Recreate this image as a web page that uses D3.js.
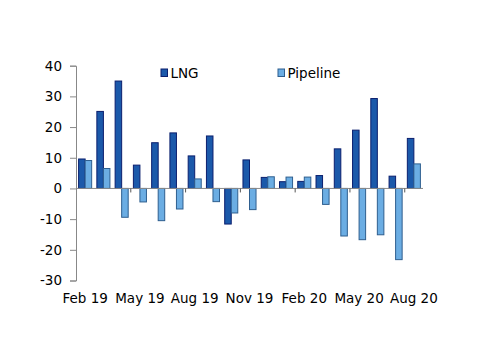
<!DOCTYPE html>
<html><head><meta charset="utf-8">
<script src="https://cdnjs.cloudflare.com/ajax/libs/d3/7.8.5/d3.min.js"></script>
<style>body{margin:0;background:#fff}svg{display:block}text{font-family:"DejaVu Sans",Verdana,sans-serif;fill:#000}</style>
</head><body><svg id="c" width="500" height="353"></svg>
<script>
const months = ["Feb 19","Mar 19","Apr 19","May 19","Jun 19","Jul 19","Aug 19","Sep 19","Oct 19","Nov 19","Dec 19","Jan 20","Feb 20","Mar 20","Apr 20","May 20","Jun 20","Jul 20","Aug 20"];
const lng = [9.6,25.1,35.0,7.6,14.9,18.1,10.6,17.1,-11.6,9.3,3.6,2.2,2.3,4.2,12.9,19.0,29.3,4.0,16.3];
const pipeline = [9.1,6.5,-9.4,-4.4,-10.5,-6.7,3.1,-4.3,-8.0,-6.9,3.8,3.7,3.7,-5.2,-15.5,-16.7,-15.1,-23.2,8.0];
const seriesNames = ["LNG","Pipeline"];
const yTicks = [-30,-20,-10,0,10,20,30,40];
const xLabels = ["Feb 19","May 19","Aug 19","Nov 19","Feb 20","May 20","Aug 20"];

const fills = {LNG:"#1b59aa", Pipeline:"#6badE3"};
const strokes = {LNG:"#0b1f6e", Pipeline:"#2f5f8f"};

const svg = d3.select("#c");
const x = d3.scaleBand().domain(months).range([76,423]).padding(0);
const xs = d3.scaleBand().domain(seriesNames).range([2.6, x.bandwidth()-2.6]).padding(0);
const y = d3.scaleLinear().domain([-30,40]).range([280.5,65.7]);

const data = months.map((m,i)=>({m, vals:[{k:"LNG",v:lng[i]},{k:"Pipeline",v:pipeline[i]}]}));

const g = svg.selectAll("g.grp").data(data).join("g").attr("class","grp")
  .attr("transform",d=>`translate(${x(d.m)},0)`);
g.selectAll("rect").data(d=>d.vals).join("rect")
  .attr("x",d=>xs(d.k)).attr("width",xs.bandwidth())
  .attr("y",d=>y(Math.max(0,d.v))).attr("height",d=>Math.abs(y(d.v)-y(0)))
  .attr("fill",d=>fills[d.k]).attr("stroke",d=>strokes[d.k]).attr("stroke-width",1);

// y axis
const ya = d3.axisLeft(y).tickValues(yTicks).tickSize(6).tickPadding(8).tickFormat(d=>String(d));
const yg = svg.append("g").attr("transform","translate(76,0)").call(ya);
yg.select(".domain").attr("stroke","#888");
yg.selectAll(".tick line").attr("stroke","#888");
yg.selectAll("text").style("font-size","13.5px");

// x axis line
svg.append("line").attr("x1",76).attr("x2",423).attr("y1",y(0)).attr("y2",y(0)).attr("stroke","#888").attr("stroke-width",1);
// x ticks at boundaries every 3 categories
const bIdx = [3,6,9,12,15,18];
svg.selectAll("line.xt").data(bIdx).join("line").attr("class","xt")
  .attr("x1",i=>x(months[i])).attr("x2",i=>x(months[i]))
  .attr("y1",y(0)).attr("y2",y(0)+4).attr("stroke","#555");
// x labels
svg.selectAll("text.xl").data(xLabels).join("text").attr("class","xl")
  .attr("x",d=>x(d)+x.bandwidth()/2).attr("y",298).attr("dy","0.35em")
  .attr("text-anchor","middle").style("font-size","13.5px").text(d=>d);

// legend
const leg = [{k:"LNG",x:161},{k:"Pipeline",x:278}];
const lg = svg.selectAll("g.leg").data(leg).join("g").attr("class","leg");
lg.append("rect").attr("x",d=>d.x).attr("y",69).attr("width",6.5).attr("height",7.5)
  .attr("fill",d=>fills[d.k]).attr("stroke",d=>strokes[d.k]);
lg.append("text").attr("x",d=>d.x+9.5).attr("y",73).attr("dy","0.35em").style("font-size","13.5px").text(d=>d.k);
</script></body></html>
